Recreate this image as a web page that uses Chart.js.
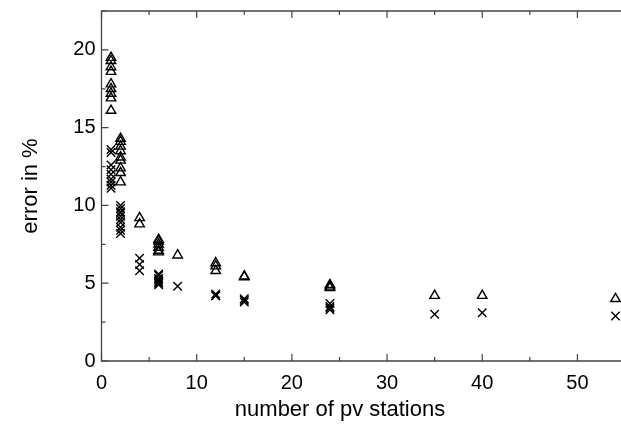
<!DOCTYPE html>
<html>
<head>
<meta charset="utf-8">
<script src="https://cdn.jsdelivr.net/npm/chart.js@4/dist/chart.umd.min.js"></script>
<style>
html,body{margin:0;padding:0;background:#fff;overflow:hidden;width:621px;height:441px;}
#wrap{position:absolute;left:0;top:0;width:680px;height:441px;}
</style>
</head>
<body>
<div id="wrap"><canvas id="c" width="680" height="441"></canvas></div>
<script>
// Series 1: triangles
const triangleStations = [1,1,1,1,1,1,1,1,1, 2,2,2,2,2,2,2,2,2, 4,4, 6,6,6,6,6,6, 8, 12,12,12, 15,15, 24,24,24, 35, 40, 54];
const triangleError    = [19.5,19.3,18.9,18.6,17.8,17.5,17.2,16.9,16.1, 14.3,14.1,13.8,13.5,13.1,12.9,12.4,12.1,11.5, 9.2,8.8, 7.8,7.7,7.5,7.3,7.1,7.0, 6.8, 6.3,6.1,5.8, 5.45,5.4, 4.9,4.8,4.7, 4.2, 4.2, 4.0];
// Series 2: crosses
const crossStations = [1,1,1,1,1,1,1,1,1, 2,2,2,2,2,2,2,2,2,2, 4,4,4, 6,6,6,6,6,6,6, 8, 12,12,12, 15,15,15, 24,24,24,24, 35, 40, 54];
const crossError    = [13.6,13.4,12.6,12.3,12.0,11.7,11.5,11.3,11.1, 10.0,9.8,9.6,9.5,9.3,9.1,8.9,8.6,8.4,8.2, 6.6,6.2,5.8, 5.6,5.5,5.3,5.2,5.1,5.0,4.9, 4.8, 4.3,4.2,4.2, 4.0,3.9,3.8, 3.7,3.5,3.4,3.3, 3.0, 3.1, 2.9];
const xTickLabels = [0,10,20,30,40,50];
const yTickLabels = [0,5,10,15,20];

const toPts = (xs, ys) => xs.map((x, i) => ({x: x, y: ys[i]}));

const boxPlugin = {
  id: 'boxTicks',
  afterDatasetsDraw(chart) {
    const {ctx, chartArea: a, scales} = chart;
    const xs = scales.x, ys = scales.y;
    ctx.save();
    ctx.strokeStyle = '#444';
    ctx.lineWidth = 1.3;
    ctx.beginPath();
    ctx.moveTo(a.right + 5, a.top); ctx.lineTo(a.left, a.top);
    ctx.lineTo(a.left, a.bottom); ctx.lineTo(a.right + 5, a.bottom);
    ctx.stroke();
    ctx.lineWidth = 1.2;
    ctx.beginPath();
    for (let v = 0; v <= 60; v += 5) {
      const px = xs.getPixelForValue(v);
      const len = (v % 10 === 0) ? 7 : 4;
      ctx.moveTo(px, a.bottom); ctx.lineTo(px, a.bottom - len);
      ctx.moveTo(px, a.top); ctx.lineTo(px, a.top + len);
    }
    for (let v = 0; v <= 22.5; v += 2.5) {
      const py = ys.getPixelForValue(v);
      const len = (v % 5 === 0) ? 7 : 4;
      ctx.moveTo(a.left, py); ctx.lineTo(a.left + len, py);
    }
    ctx.stroke();
    ctx.restore();
  }
};

const font = "'Liberation Sans', Arial, sans-serif";

new Chart(document.getElementById('c'), {
  type: 'scatter',
  data: {
    datasets: [
      {
        label: 'triangles',
        data: toPts(triangleStations, triangleError),
        pointStyle: 'triangle',
        pointRadius: 5.5,
        pointHoverRadius: 5.5,
        borderColor: '#000',
        backgroundColor: 'rgba(0,0,0,0)',
        pointBorderWidth: 1.4
      },
      {
        label: 'crosses',
        data: toPts(crossStations, crossError),
        pointStyle: 'crossRot',
        pointRadius: 6,
        pointHoverRadius: 6,
        borderColor: '#000',
        backgroundColor: '#000',
        pointBorderWidth: 1.4
      }
    ]
  },
  options: {
    responsive: false,
    animation: false,
    devicePixelRatio: 1,
    layout: { padding: { top: 11, right: 0, left: 0, bottom: 0 } },
    plugins: {
      legend: { display: false },
      tooltip: { enabled: false },
      title: {
        display: true,
        position: 'bottom',
        text: 'number of pv stations',
        color: '#000',
        font: { family: font, size: 22, weight: 'normal' },
        padding: { top: 0, bottom: 18 }
      }
    },
    scales: {
      x: {
        type: 'linear',
        min: 0,
        max: 60,
        grid: { display: false, drawTicks: false },
        border: { display: false },
        afterFit(scale) { scale.height = 441 - 361 - 44.4; scale.paddingLeft = 0; scale.paddingRight = 0; },
        afterBuildTicks(scale) { scale.ticks = xTickLabels.map(v => ({value: v})); },
        ticks: {
          color: '#000',
          padding: 10,
          maxRotation: 0,
          autoSkip: false,
          font: { family: font, size: 20 }
        }
      },
      y: {
        type: 'linear',
        min: 0,
        max: 22.5,
        grid: { display: false, drawTicks: false },
        border: { display: false },
        afterFit(scale) { scale.width = 101.5; scale.paddingTop = 0; scale.paddingBottom = 0; },
        afterBuildTicks(scale) { scale.ticks = yTickLabels.map(v => ({value: v})); },
        title: {
          display: true,
          text: 'error in %',
          color: '#000',
          font: { family: font, size: 22 },
          padding: { top: 18, bottom: 0 }
        },
        ticks: {
          color: '#000',
          padding: 6,
          autoSkip: false,
          font: { family: font, size: 20 }
        }
      }
    }
  },
  plugins: [boxPlugin]
});
</script>
</body>
</html>
